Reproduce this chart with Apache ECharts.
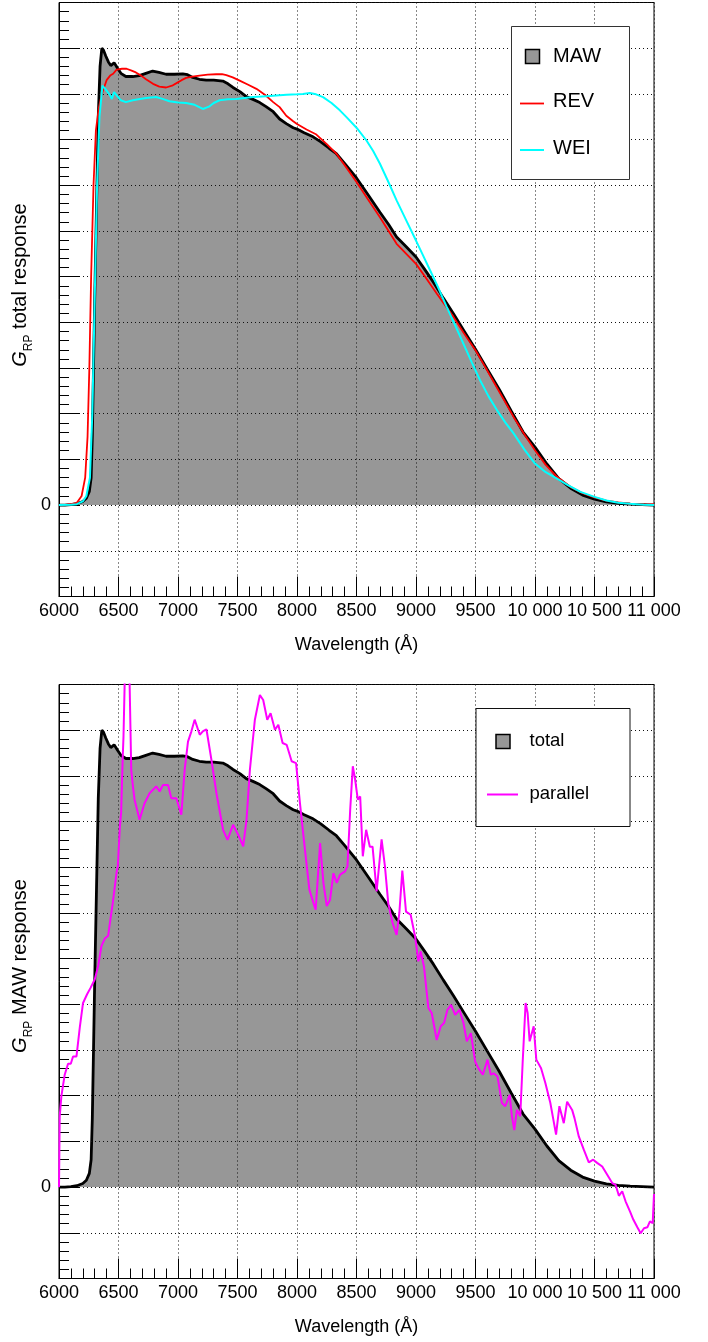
<!DOCTYPE html>
<html>
<head>
<meta charset="utf-8">
<title>G_RP passbands</title>
<script src="https://cdn.jsdelivr.net/npm/echarts@6/dist/echarts.min.js"></script>
<style>
  html, body { margin: 0; padding: 0; background: #fff; }
  #chart { width: 708px; height: 1342px; }
</style>
</head>
<body>
<div id="chart"></div>
<script>
// Wavelength axis tick labels (Å), one per 500 Å step from 6000 to 11000
const xTickLabels = ['6000', '6500', '7000', '7500', '8000', '8500', '9000', '9500', '10 000', '10 500', '11 000'];

// G_RP total response, MAW passband  [wavelength Å, normalised response]
const mawTotal = [
  [6000, 0], [6050, 0], [6100, 0.001], [6150, 0.003], [6200, 0.008], [6230, 0.015], [6255, 0.03],
  [6270, 0.06], [6280, 0.15], [6290, 0.3], [6300, 0.45], [6315, 0.65], [6330, 0.85], [6345, 0.96],
  [6360, 1.0], [6375, 0.995], [6393, 0.983], [6415, 0.97], [6435, 0.962], [6450, 0.966], [6463, 0.968],
  [6478, 0.962], [6492, 0.956], [6520, 0.945], [6562, 0.938], [6620, 0.938], [6674, 0.940], [6730, 0.945],
  [6787, 0.950], [6840, 0.947], [6900, 0.943], [6970, 0.943], [7040, 0.944], [7080, 0.942], [7124, 0.936],
  [7180, 0.932], [7237, 0.930], [7300, 0.930], [7377, 0.928], [7420, 0.922], [7462, 0.914], [7520, 0.905],
  [7574, 0.894], [7630, 0.888], [7687, 0.881], [7740, 0.872], [7800, 0.861], [7854, 0.845], [7910, 0.835],
  [7968, 0.826], [8000, 0.823], [8060, 0.815], [8135, 0.806], [8200, 0.795], [8270, 0.781], [8331, 0.769],
  [8400, 0.748], [8450, 0.732], [8500, 0.716], [8600, 0.678], [8697, 0.641], [8770, 0.614], [8837, 0.587],
  [8920, 0.565], [9000, 0.543], [9070, 0.517], [9146, 0.488], [9230, 0.453], [9315, 0.419], [9400, 0.383],
  [9500, 0.341], [9600, 0.297], [9700, 0.253], [9800, 0.206], [9900, 0.160], [10000, 0.127], [10100, 0.090],
  [10200, 0.058], [10300, 0.037], [10400, 0.022], [10500, 0.013], [10600, 0.007], [10700, 0.004],
  [10800, 0.002], [10900, 0.001], [11000, 0]
];

// G_RP total response, REV passband
const revTotal = [
  [6000, 0], [6050, 0.0005], [6100, 0.002], [6150, 0.005], [6190, 0.02], [6220, 0.06], [6240, 0.15],
  [6255, 0.3], [6270, 0.5], [6290, 0.7], [6310, 0.82], [6335, 0.87], [6360, 0.9], [6400, 0.93],
  [6430, 0.94], [6455, 0.944], [6484, 0.953], [6530, 0.955], [6568, 0.955], [6610, 0.951], [6646, 0.947],
  [6690, 0.94], [6731, 0.932], [6790, 0.922], [6843, 0.916], [6900, 0.914], [6950, 0.918], [6984, 0.923],
  [7030, 0.93], [7068, 0.935], [7120, 0.938], [7181, 0.940], [7250, 0.942], [7321, 0.943], [7370, 0.943],
  [7406, 0.941], [7460, 0.936], [7518, 0.929], [7590, 0.92], [7659, 0.911], [7730, 0.898], [7800, 0.882],
  [7854, 0.871], [7910, 0.852], [7968, 0.84], [8000, 0.834], [8080, 0.822], [8163, 0.811], [8250, 0.79],
  [8331, 0.769], [8420, 0.737], [8500, 0.707], [8600, 0.668], [8697, 0.630], [8837, 0.572], [9000, 0.528],
  [9090, 0.495], [9174, 0.463], [9315, 0.412], [9400, 0.377], [9500, 0.339], [9580, 0.303], [9652, 0.270],
  [9740, 0.230], [9820, 0.193], [9910, 0.155], [10000, 0.120], [10090, 0.088], [10185, 0.062],
  [10298, 0.040], [10400, 0.026], [10500, 0.017], [10600, 0.010], [10700, 0.006], [10800, 0.003],
  [10944, 0.001], [11000, 0.002]
];

// G_RP total response, WEI passband
const weiTotal = [
  [6000, 0], [6100, 0.001], [6150, 0.002], [6200, 0.008], [6230, 0.02], [6260, 0.06], [6280, 0.2],
  [6300, 0.45], [6320, 0.7], [6340, 0.85], [6365, 0.918], [6385, 0.912], [6421, 0.900], [6444, 0.889],
  [6463, 0.904], [6490, 0.895], [6520, 0.886], [6562, 0.882], [6620, 0.886], [6680, 0.889], [6731, 0.891],
  [6815, 0.893], [6870, 0.889], [6928, 0.884], [7000, 0.881], [7068, 0.880], [7140, 0.876], [7209, 0.867],
  [7260, 0.872], [7300, 0.880], [7350, 0.886], [7420, 0.888], [7490, 0.889], [7560, 0.891], [7631, 0.893],
  [7743, 0.895], [7854, 0.897], [7912, 0.898], [8000, 0.899], [8050, 0.900], [8107, 0.902], [8160, 0.899],
  [8219, 0.893], [8290, 0.880], [8360, 0.864], [8420, 0.848], [8500, 0.826], [8584, 0.798], [8640, 0.775],
  [8697, 0.747], [8770, 0.706], [8837, 0.667], [8920, 0.622], [9000, 0.579], [9060, 0.546], [9118, 0.514],
  [9190, 0.474], [9258, 0.434], [9330, 0.393], [9399, 0.353], [9470, 0.312], [9539, 0.273], [9610, 0.238],
  [9680, 0.208], [9750, 0.181], [9820, 0.157], [9910, 0.122], [10000, 0.091], [10090, 0.072],
  [10185, 0.058], [10280, 0.043], [10382, 0.029], [10500, 0.018], [10600, 0.010], [10700, 0.005],
  [10800, 0.003], [10916, 0.001], [11000, 0]
];

// G_RP MAW response for parallel polarisation
const mawParallel = [
  [6000, 0], [6006, 0.155], [6020, 0.199], [6048, 0.246], [6076, 0.270], [6099, 0.270], [6118, 0.286],
  [6147, 0.286], [6175, 0.35], [6202, 0.403], [6236, 0.422], [6265, 0.436], [6301, 0.455], [6329, 0.484],
  [6357, 0.528], [6385, 0.544], [6413, 0.550], [6424, 0.571], [6452, 0.622], [6484, 0.689], [6494, 0.702],
  [6512, 0.791], [6522, 0.819], [6535, 0.937], [6542, 0.986], [6560, 1.2], [6575, 1.25], [6590, 1.15],
  [6607, 0.913], [6620, 0.88], [6635, 0.848], [6677, 0.804], [6719, 0.840], [6761, 0.862], [6817, 0.877],
  [6846, 0.866], [6874, 0.880], [6916, 0.880], [6944, 0.851], [6986, 0.851], [7028, 0.815], [7056, 0.913],
  [7084, 0.975], [7112, 0.997], [7140, 1.023], [7183, 0.990], [7211, 0.998], [7239, 1.002], [7281, 0.935],
  [7323, 0.862], [7379, 0.782], [7416, 0.760], [7463, 0.793], [7506, 0.771], [7548, 0.746], [7576, 0.804],
  [7604, 0.913], [7646, 1.023], [7688, 1.077], [7716, 1.066], [7750, 1.023], [7778, 1.037], [7815, 1.001],
  [7843, 1.012], [7879, 0.972], [7913, 0.968], [7955, 0.932], [7992, 0.928], [8025, 0.840], [8067, 0.738],
  [8104, 0.651], [8138, 0.622], [8157, 0.607], [8194, 0.753], [8222, 0.666], [8250, 0.615], [8278, 0.629],
  [8306, 0.687], [8334, 0.666], [8362, 0.684], [8404, 0.691], [8424, 0.702], [8447, 0.826], [8469, 0.921],
  [8489, 0.891], [8511, 0.848], [8531, 0.855], [8553, 0.724], [8581, 0.782], [8612, 0.745], [8635, 0.745],
  [8669, 0.647], [8711, 0.761], [8739, 0.702], [8767, 0.621], [8803, 0.578], [8837, 0.552], [8860, 0.600],
  [8885, 0.693], [8916, 0.603], [8955, 0.596], [8992, 0.549], [9020, 0.494], [9039, 0.516], [9067, 0.483],
  [9104, 0.392], [9132, 0.381], [9174, 0.322], [9208, 0.352], [9236, 0.359], [9264, 0.388], [9295, 0.399],
  [9329, 0.377], [9365, 0.388], [9399, 0.359], [9427, 0.319], [9461, 0.337], [9497, 0.275], [9525, 0.260],
  [9562, 0.246], [9601, 0.279], [9629, 0.246], [9652, 0.249], [9685, 0.242], [9722, 0.184], [9750, 0.177],
  [9787, 0.202], [9806, 0.155], [9826, 0.125], [9848, 0.169], [9876, 0.155], [9896, 0.271], [9921, 0.403],
  [9938, 0.381], [9955, 0.319], [9989, 0.352], [10011, 0.279], [10051, 0.260], [10087, 0.228],
  [10129, 0.184], [10152, 0.151], [10177, 0.115], [10205, 0.177], [10242, 0.140], [10270, 0.187],
  [10312, 0.169], [10332, 0.151], [10368, 0.111], [10410, 0.082], [10452, 0.054], [10489, 0.060],
  [10522, 0.053], [10565, 0.045], [10607, 0.027], [10649, 0.009], [10677, 0.005], [10705, -0.019],
  [10733, -0.009], [10761, -0.031], [10798, -0.053], [10826, -0.071], [10860, -0.088], [10888, -0.101],
  [10916, -0.090], [10944, -0.088], [10966, -0.075], [10989, -0.079], [11000, -0.015]
];

const FONT = '"Liberation Sans", Arial, Helvetica, sans-serif';
const FILL_GREY = '#979797';
const GRID_DOTS = { color: '#111', width: 1, type: [1, 3] };

const chart = echarts.init(document.getElementById('chart'), null, { renderer: 'canvas' });

const panels = [
  { left: 59, top: 2.5 },
  { left: 59, top: 684.5 }
];

function xAxisFor(i) {
  return {
    type: 'value', gridIndex: i, min: 6000, max: 11000, interval: 500, z: 2,
    axisLine: { show: true, onZero: false, lineStyle: { color: '#000', width: 1 } },
    axisTick: { show: true, inside: true, length: 20, lineStyle: { color: '#000', width: 1 } },
    minorTick: { show: true, splitNumber: 5, length: 10, lineStyle: { color: '#000', width: 1 } },
    axisLabel: {
      margin: 6, color: '#000', fontSize: 18, fontFamily: FONT,
      formatter: v => xTickLabels[Math.round((v - 6000) / 500)] || ''
    },
    splitLine: { show: true, lineStyle: GRID_DOTS }
  };
}

function yAxisFor(i) {
  return {
    type: 'value', gridIndex: i, min: -0.2, max: 1.1, interval: 0.1, z: 2,
    axisLine: { show: true, lineStyle: { color: '#000', width: 1 } },
    axisTick: { show: true, inside: true, length: 21, lineStyle: { color: '#000', width: 1 } },
    minorTick: { show: true, splitNumber: 5, length: 10, lineStyle: { color: '#000', width: 1 } },
    axisLabel: {
      margin: 8, color: '#000', fontSize: 18, fontFamily: FONT,
      formatter: v => (Math.abs(v) < 1e-6 ? '0' : '')
    },
    splitLine: { show: true, lineStyle: GRID_DOTS }
  };
}

function lineSeries(name, data, axis, color, width, z, fill) {
  const s = {
    name, type: 'line', data, xAxisIndex: axis, yAxisIndex: axis,
    symbol: 'none', smooth: false, z, animation: false,
    lineStyle: { color, width }
  };
  if (fill) s.areaStyle = { color: fill, opacity: 1, origin: 0 };
  return s;
}

// y-axis title: italic G with "RP" subscript, rotated to read bottom-to-top
function yTitle(x, y, rest) {
  return {
    type: 'text', x, y, rotation: Math.PI / 2, z: 10,
    style: {
      text: '{g|G}{s|RP}{t| ' + rest + '}',
      align: 'center', verticalAlign: 'middle', fill: '#000',
      rich: {
        g: { fontFamily: FONT, fontStyle: 'italic', fontSize: 20, lineHeight: 30, fill: '#000' },
        s: { fontFamily: FONT, fontSize: 12, lineHeight: 10, verticalAlign: 'bottom', fill: '#000' },
        t: { fontFamily: FONT, fontSize: 20, lineHeight: 30, fill: '#000' }
      }
    }
  };
}

function label(x, y, text, size) {
  return {
    type: 'text', x, y, z: 11,
    style: { text, fontFamily: FONT, fontSize: size, fill: '#000', align: 'left', verticalAlign: 'middle' }
  };
}

const graphics = [
  // axis titles
  { type: 'text', x: 356.5, y: 645, z: 10,
    style: { text: 'Wavelength (Å)', fontFamily: FONT, fontSize: 18, fill: '#000', align: 'center', verticalAlign: 'middle' } },
  { type: 'text', x: 356.5, y: 1327, z: 10,
    style: { text: 'Wavelength (Å)', fontFamily: FONT, fontSize: 18, fill: '#000', align: 'center', verticalAlign: 'middle' } },
  yTitle(20, 285, 'total response'),
  yTitle(20, 966, 'MAW response'),

  // legend, upper panel
  { type: 'rect', z: 10, shape: { x: 511.5, y: 26.5, width: 118, height: 153 },
    style: { fill: '#fff', stroke: '#333', lineWidth: 1 } },
  { type: 'rect', z: 11, shape: { x: 525.5, y: 49.5, width: 14, height: 14 },
    style: { fill: FILL_GREY, stroke: '#000', lineWidth: 1.5 } },
  label(553, 56, 'MAW', 20),
  { type: 'line', z: 11, shape: { x1: 520, y1: 103.5, x2: 544, y2: 103.5 },
    style: { stroke: '#ff0000', lineWidth: 1.8 } },
  label(553, 101.5, 'REV', 20),
  { type: 'line', z: 11, shape: { x1: 520, y1: 150, x2: 544, y2: 150 },
    style: { stroke: '#00ffff', lineWidth: 2 } },
  label(553, 148.5, 'WEI', 20),

  // legend, lower panel
  { type: 'rect', z: 10, shape: { x: 476, y: 708.5, width: 154, height: 118 },
    style: { fill: '#fff', stroke: '#111', lineWidth: 1 } },
  { type: 'rect', z: 11, shape: { x: 496, y: 734.5, width: 14, height: 14 },
    style: { fill: FILL_GREY, stroke: '#000', lineWidth: 1.5 } },
  label(529.5, 740.5, 'total', 18.5),
  { type: 'line', z: 11, shape: { x1: 487, y1: 794.5, x2: 518, y2: 794.5 },
    style: { stroke: '#ff00ff', lineWidth: 2 } },
  label(529.5, 793.8, 'parallel', 18.5)
];

chart.setOption({
  backgroundColor: '#fff',
  animation: false,
  grid: panels.map(p => ({
    left: p.left, top: p.top, width: 595, height: 594,
    show: true, borderColor: '#000', borderWidth: 1, backgroundColor: 'transparent', containLabel: false
  })),
  xAxis: [xAxisFor(0), xAxisFor(1)],
  yAxis: [yAxisFor(0), yAxisFor(1)],
  series: [
    lineSeries('MAW', mawTotal, 0, '#000', 2.8, 1, FILL_GREY),
    lineSeries('REV', revTotal, 0, '#ff0000', 1.8, 3),
    lineSeries('WEI', weiTotal, 0, '#00ffff', 2, 3),
    lineSeries('total', mawTotal, 1, '#000', 2.8, 1, FILL_GREY),
    lineSeries('parallel', mawParallel, 1, '#ff00ff', 2, 3)
  ],
  graphic: graphics
});
</script>
</body>
</html>
